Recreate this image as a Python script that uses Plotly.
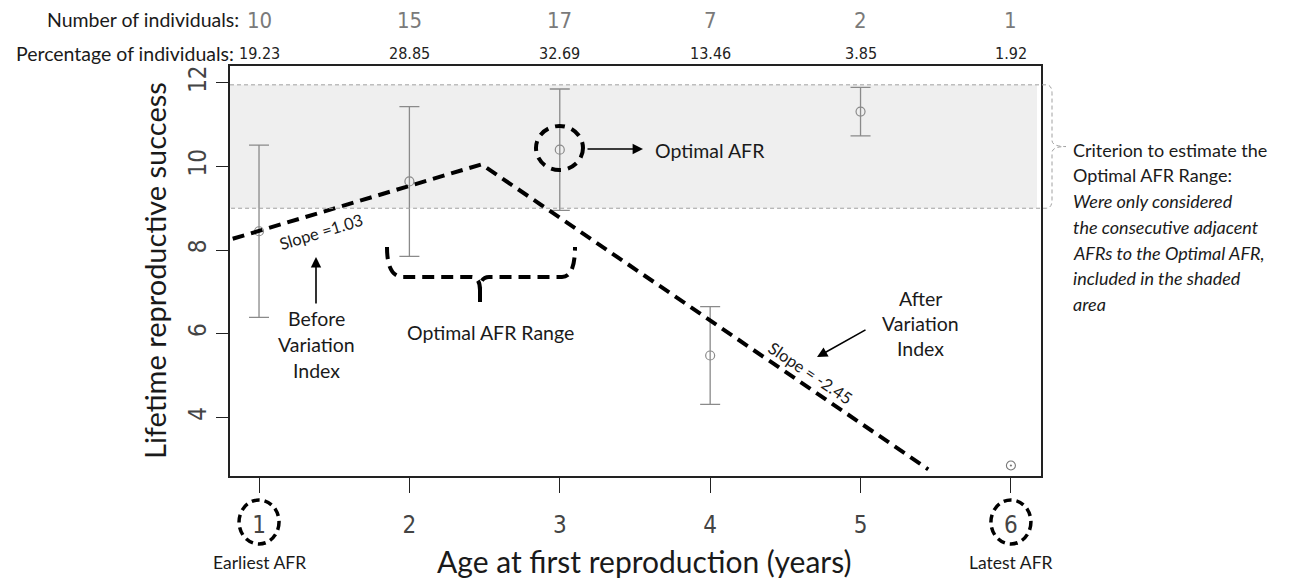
import plotly.graph_objects as go

# ---------------- data ----------------
ages = [1, 2, 3, 4, 5, 6]
lrs_mean = [8.45, 9.64, 10.40, 5.48, 11.31, 2.85]
lrs_err = [2.06, 1.79, 1.45, 1.17, 0.58, 0.0]
n_individuals = [10, 15, 17, 7, 2, 1]
pct_individuals = ["19.23", "28.85", "32.69", "13.46", "3.85", "1.92"]
y_ticks = [4, 6, 8, 10, 12]
shade_band = [9.0, 11.95]
trend_x = [0.825, 2.48, 5.45]
trend_y = [8.27, 10.05, 2.76]
slope_labels = ["Slope =1.03", "Slope = -2.45"]
criterion_lines = [
    ("Criterion to estimate the", False),
    ("Optimal AFR Range:", False),
    ("Were only considered", True),
    ("the consecutive adjacent", True),
    ("AFRs to the Optimal AFR,", True),
    ("included in the shaded", True),
    ("area", True),
]

# ---------------- layout geometry ----------------
OFF = 8                      # page body margin
W, H = 1294 - OFF, 586 - OFF
ML, MR, MT, MB = 230 - OFF, 253, 66 - OFF, 110
PW, PH = W - ML - MR, H - MT - MB
XR = [0.807, 6.2]
YR = [2.6, 12.4]

NARROW = "Liberation Sans Narrow, DejaVu Sans Condensed, Arial Narrow, sans-serif"
HUM = "Lato, Open Sans, sans-serif"
TXT = "#1a1a1a"


def dx(px):
    return XR[0] + (px - OFF - ML) / PW * (XR[1] - XR[0])


def dy(py):
    return YR[0] + (H - MB - (py - OFF)) / PH * (YR[1] - YR[0])


def fx(px):
    return (px - OFF - ML) / PW


def fy(py):
    return (H - MB - (py - OFF)) / PH


def txt(text, x, y, size, xref="x", yref="y", family=HUM, color=TXT, **kw):
    d = dict(text=text, x=x, y=y, xref=xref, yref=yref, showarrow=False,
             xanchor="center", yanchor="middle",
             font=dict(family=family, size=size, color=color))
    d.update(kw)
    return d


fig = go.Figure()

# error bars + means (ages 1..5)
fig.add_trace(go.Scatter(
    x=ages[:5], y=lrs_mean[:5], mode="markers",
    marker=dict(symbol="circle-open", size=9, color="#8a8a8a", line=dict(width=1.2)),
    error_y=dict(type="data", array=lrs_err[:5], visible=True,
                 color="#8a8a8a", thickness=1.3, width=10),
    hoverinfo="skip"))
# single individual (age 6) - no spread
fig.add_trace(go.Scatter(
    x=ages[5:], y=lrs_mean[5:], mode="markers",
    marker=dict(symbol="circle-open-dot", size=9, color="#777", line=dict(width=1.1)),
    hoverinfo="skip"))
# broken-stick trend
fig.add_trace(go.Scatter(
    x=trend_x, y=trend_y, mode="lines",
    line=dict(color="black", width=4, dash="12px,7px"),
    hoverinfo="skip"))

shapes = []
# shaded band
shapes.append(dict(type="rect", xref="paper", yref="y", x0=0, x1=fx(1037),
                   y0=shade_band[0], y1=shade_band[1],
                   fillcolor="#efefef", line=dict(width=0), layer="below"))
# gray dashed band edges + right brace
xa, xb, xt = fx(1046), fx(1052), fx(1066)
ymid = (shade_band[0] + shade_band[1]) / 2
top, bot = shade_band[1], shade_band[0]
brace = (f"M 0,{top} H {xa} Q {xb},{top} {xb},{top-0.2} V {ymid+0.15} "
         f"Q {xb},{ymid} {xt},{ymid} Q {xb},{ymid} {xb},{ymid-0.15} "
         f"V {bot+0.2} Q {xb},{bot} {xa},{bot} H 0")
shapes.append(dict(type="path", xref="paper", yref="y", path=brace,
                   line=dict(color="#a0a0a0", width=1, dash="4px,3px")))
# dashed circle around optimal AFR point
shapes.append(dict(type="circle", xref="x", yref="y",
                   x0=dx(536), x1=dx(583), y0=dy(170), y1=dy(126),
                   line=dict(color="black", width=4, dash="10px,7px")))
# black brace marking the optimal AFR range
bx = [dx(387), dx(390), dx(403), dx(471), dx(480), dx(489), dx(562), dx(575)]
by_top, by_h, by_y, by_tip = dy(247), dy(277), dy(290), dy(307)
range_brace = (f"M {bx[0]},{by_top} Q {bx[0]},{by_h} {bx[2]},{by_h} L {bx[3]},{by_h} "
               f"Q {bx[4]},{by_h} {bx[4]},{by_y} Q {bx[4]},{by_h} {bx[5]},{by_h} "
               f"L {bx[6]},{by_h} Q {bx[7]},{by_h} {bx[7]},{by_top} "
               f"M {bx[4]},{by_y} L {bx[4]},{by_tip}")
shapes.append(dict(type="path", xref="x", yref="y", path=range_brace,
                   line=dict(color="black", width=4, dash="12px,7px")))
# dashed circles around earliest / latest AFR tick labels
for a in (ages[0], ages[-1]):
    shapes.append(dict(type="circle", xref="x", yref="paper",
                       x0=a - 20 / 150.4, x1=a + 20 / 150.4, y0=fy(544), y1=fy(500),
                       line=dict(color="black", width=3.5, dash="8px,5px")))

ann = []
# header rows
ann.append(txt("Number of individuals:", fx(241), fy(20), 19.5, "paper", "paper",
               xanchor="right"))
ann.append(txt("Percentage of individuals:", fx(236), fy(54), 19.5, "paper", "paper",
               xanchor="right"))
for a, n, p in zip(ages, n_individuals, pct_individuals):
    ann.append(txt(str(n), a, fy(21), 22, "x", "paper", family=NARROW, color="#7a7a7a"))
    ann.append(txt(p, a, fy(54), 16, "x", "paper", family=NARROW, color="#222"))

# axis titles
ann.append(txt("Age at first reproduction (years)", fx(644), fy(561), 30, "paper", "paper"))
ann.append(txt("Lifetime reproductive success", fx(154), fy(271), 29, "paper", "paper",
               textangle=-90))
# earliest / latest labels
ann.append(txt("Earliest AFR", ages[0], fy(562), 17.5, "x", "paper"))
ann.append(txt("Latest AFR", ages[-1], fy(562), 17.5, "x", "paper"))

# slope labels
ann.append(txt(slope_labels[0], dx(321), dy(232), 16.5, textangle=-17))
ann.append(txt(slope_labels[1], dx(810), dy(373), 16.5, textangle=34))

arrow_style = dict(showarrow=True, arrowhead=2, arrowsize=1.3, arrowwidth=1.6,
                   arrowcolor="black", axref="pixel", ayref="pixel", text="")
# before variation index
ann.append(dict(x=dx(316), y=dy(257), ax=0, ay=48, **arrow_style))
for t, py in zip(["Before", "Variation", "Index"], [318, 344, 370]):
    ann.append(txt(t, dx(316), dy(py), 19.5))
# optimal AFR range label
ann.append(txt("Optimal AFR Range", dx(490), dy(332), 19.5))
# optimal AFR arrow + label
ann.append(dict(x=dx(643), y=dy(149), ax=-57, ay=0, **arrow_style))
ann.append(txt("Optimal AFR", dx(653), dy(150), 19.5, xanchor="left"))
# after variation index
ann.append(dict(x=dx(817), y=dy(357), ax=50, ay=-28, **arrow_style))
for t, py in zip(["After", "Variation", "Index"], [298, 323, 348]):
    ann.append(txt(t, dx(920), dy(py), 19.5))
# criterion text on the right
for (t, it), py in zip(criterion_lines, [150, 175, 201, 227, 253, 278, 304]):
    ann.append(txt(f"<i>{t}</i>" if it else t, fx(1071), fy(py), 18, "paper", "paper",
                   xanchor="left"))

fig.update_layout(
    width=W, height=H, margin=dict(l=ML, r=MR, t=MT, b=MB),
    paper_bgcolor="white", plot_bgcolor="white", showlegend=False,
    hovermode=False, shapes=shapes, annotations=ann,
    xaxis=dict(range=XR, tickvals=ages, ticktext=[str(a) for a in ages],
               ticks="outside", ticklen=15, tickwidth=1.3, tickcolor="#222",
               showline=True, linecolor="#222", linewidth=1.5, mirror=True,
               showgrid=False, zeroline=False, ticklabelstandoff=11,
               tickfont=dict(family=NARROW, size=24, color="#444")),
    yaxis=dict(range=YR, tickvals=y_ticks, ticktext=[str(v) for v in y_ticks],
               ticks="outside", ticklen=12, tickwidth=1.3, tickcolor="#222",
               showline=True, linecolor="#222", linewidth=1.5, mirror=True,
               showgrid=False, zeroline=False, tickangle=-90, ticklabelstandoff=1,
               tickfont=dict(family=NARROW, size=24, color="#444")),
)

fig.write_html("out.html")
